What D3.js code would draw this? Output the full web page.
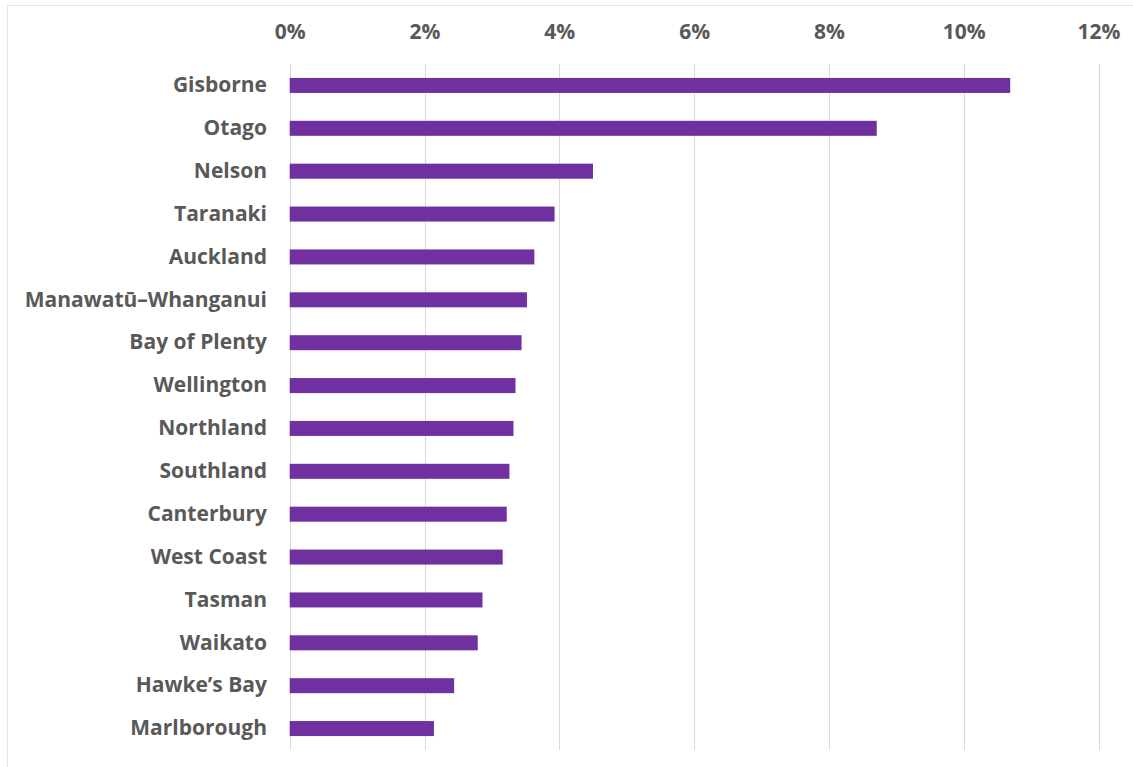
<!DOCTYPE html>
<html>
<head>
<meta charset="utf-8">
<script src="https://cdn.jsdelivr.net/npm/d3@7"></script>
<style>
  html, body { margin: 0; padding: 0; background: #fff; }
  svg { display: block; }
</style>
</head>
<body>
<svg id="chart" width="1133" height="767"></svg>
<script>
// Regions, in chart order (top to bottom)
const regions = [
  "Gisborne", "Otago", "Nelson", "Taranaki", "Auckland",
  "Manawatū–Whanganui", "Bay of Plenty", "Wellington", "Northland",
  "Southland", "Canterbury", "West Coast", "Tasman", "Waikato",
  "Hawke’s Bay", "Marlborough"
];
// Share of each region, as a fraction
const shares = [
  0.1069, 0.0871, 0.0450, 0.0393, 0.0363,
  0.0352, 0.0344, 0.0335, 0.0332,
  0.0326, 0.0322, 0.0316, 0.0286, 0.0279,
  0.0244, 0.0214
];
// Axis ticks
const tickValues = [0, 0.02, 0.04, 0.06, 0.08, 0.10, 0.12];

const data = regions.map((r, i) => ({ region: r, value: shares[i] }));

const svg = d3.select("#chart");
const font = "'Open Sans', Lato, sans-serif";
const textColor = "#595959";
const fontSize = 21;

// Outer frame: thin light lines on top and left edges
svg.append("line").attr("x1", 7.5).attr("x2", 1133).attr("y1", 5.5).attr("y2", 5.5)
  .attr("stroke", "#e6e6e6").attr("stroke-width", 1);
svg.append("line").attr("x1", 7.5).attr("x2", 7.5).attr("y1", 5.5).attr("y2", 767)
  .attr("stroke", "#e6e6e6").attr("stroke-width", 1);

const x = d3.scaleLinear().domain([0, 0.12]).range([289.7, 1098.5]);
const y = d3.scaleBand().domain(regions).range([64, 750]).paddingInner(0.65).paddingOuter(0.325);

// Vertical gridlines
svg.append("g")
  .selectAll("line")
  .data(tickValues)
  .join("line")
  .attr("x1", d => Math.round(x(d)) + 0.5)
  .attr("x2", d => Math.round(x(d)) + 0.5)
  .attr("y1", 64)
  .attr("y2", 750)
  .attr("stroke", "#d9d9d9")
  .attr("stroke-width", 1);

// Top axis labels
const xAxis = d3.axisTop(x)
  .tickValues(tickValues)
  .tickFormat(d3.format(".0%"))
  .tickSize(0)
  .tickPadding(0);
const gx = svg.append("g").attr("transform", "translate(0,39)").call(xAxis);
gx.select(".domain").remove();
gx.selectAll("text")
  .attr("fill", textColor)
  .attr("font-family", font)
  .attr("font-weight", "bold")
  .attr("font-size", fontSize);

// Bars
svg.append("g")
  .selectAll("rect")
  .data(data)
  .join("rect")
  .attr("x", x(0))
  .attr("y", d => y(d.region))
  .attr("width", d => x(d.value) - x(0))
  .attr("height", y.bandwidth())
  .attr("fill", "#7030a0");

// Category labels
const yAxis = d3.axisLeft(y).tickSize(0).tickPadding(0);
const gy = svg.append("g").attr("transform", "translate(267,0)").call(yAxis);
gy.select(".domain").remove();
gy.selectAll("text")
  .attr("fill", textColor)
  .attr("font-family", font)
  .attr("font-weight", "bold")
  .attr("font-size", fontSize);
</script>
</body>
</html>
